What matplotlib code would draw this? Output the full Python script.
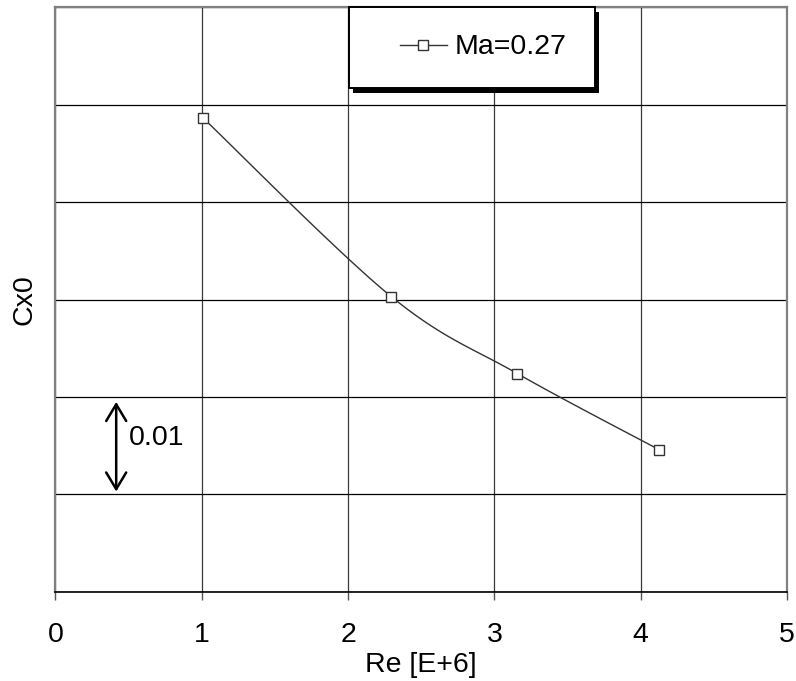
import numpy as np
import matplotlib
matplotlib.use("Agg")
import matplotlib.pyplot as plt
from matplotlib.patches import Rectangle

plt.rcParams['font.family'] = ['Liberation Sans', 'DejaVu Sans']

# Reynolds number [E+6] and zero-lift drag coefficient
re_values = [1.01, 2.295, 3.157, 4.125]
cx0_values = [0.0486, 0.0303, 0.0224, 0.0146]
series_label = "Ma=0.27"
x_ticks = [0, 1, 2, 3, 4, 5]
x_tick_labels = ["0", "1", "2", "3", "4", "5"]
scale_value = 0.01

fig = plt.figure(figsize=(7.96, 6.81), dpi=100)
ax = fig.add_axes([0.0697, 0.1307, 0.919, 0.859])
ax.set_xlim(0, 5)
ax.set_ylim(0, 0.06)


def smooth_curve(xs, ys, xr, yr, n=40):
    """Bezier smoothing through the points, computed in axes-normalised space."""
    px = np.asarray(xs) / xr
    py = np.asarray(ys) / yr
    pts = np.column_stack([px, py])
    pad = np.vstack([pts[0], pts, pts[-1]])
    out = [pts[0]]
    t = np.linspace(0, 1, n)[1:, None]
    for i in range(len(pts) - 1):
        p0, p1, p2, p3 = pad[i], pad[i + 1], pad[i + 2], pad[i + 3]
        c1 = p1 + (p2 - p0) / 6.0
        c2 = p2 - (p3 - p1) / 6.0
        seg = ((1 - t) ** 3) * p1 + 3 * ((1 - t) ** 2) * t * c1 + 3 * (1 - t) * t ** 2 * c2 + t ** 3 * p2
        out.extend(seg)
    out = np.array(out)
    return out[:, 0] * xr, out[:, 1] * yr


sx, sy = smooth_curve(re_values, cx0_values, 5.0, 0.06 * 0.8)
ax.plot(sx, sy, color='#333333', lw=1.0, zorder=3)
ax.plot(re_values, cx0_values, ls='none', marker='s', ms=7, mfc='white',
        mec='#333333', mew=1.0, zorder=4)

# grid
ax.set_yticks(np.arange(0, 0.0601, 0.01))
ax.set_xticks(x_ticks)
ax.set_xticklabels(x_tick_labels)
ax.yaxis.set_tick_params(length=0, labelleft=False)
ax.grid(True, axis='y', color='black', lw=0.9)
ax.grid(True, axis='x', color='#3a3a3a', lw=0.9)
ax.set_axisbelow(True)
ax.tick_params(axis='x', direction='out', length=6, width=1.0, color='#555555',
               labelsize=20.5, pad=15.5)

for side in ['left', 'top', 'right']:
    ax.spines[side].set_color('#808080')
    ax.spines[side].set_linewidth(1.6)
ax.spines['bottom'].set_color('black')
ax.spines['bottom'].set_linewidth(1.2)

ax.set_xlabel("Re [E+6]", fontsize=20.5, labelpad=3)
ax.set_ylabel("Cx0", fontsize=20.5, labelpad=13)

# scale indicator
ax.annotate("", xy=(0.415, 0.02 - 0.0005), xytext=(0.415, 0.01 + 0.0003),
            arrowprops=dict(arrowstyle='<->, head_length=0.4, head_width=0.24',
                            color='black', lw=1.8,
                            mutation_scale=30, shrinkA=0, shrinkB=0), zorder=5)
ax.text(0.5, 0.0158, f"{scale_value:.2f}", fontsize=20.5, ha='left', va='center', zorder=5)

# legend box with solid shadow
bx0, by0, bw, bh = 0.4012, 0.8615, 0.3363, 0.1385
ax.add_patch(Rectangle((bx0 + 0.0060, by0 - 0.0080), bw, bh, transform=ax.transAxes,
                       facecolor='black', edgecolor='none', zorder=6, clip_on=False))
ax.add_patch(Rectangle((bx0, by0), bw, bh, transform=ax.transAxes,
                       facecolor='white', edgecolor='black', lw=1.4, zorder=7, clip_on=False))

handle_line, = ax.plot([], [], color='#333333', lw=1.0, marker='s', ms=7,
                       mfc='white', mec='#333333', mew=1.0)
leg = ax.legend([handle_line], [series_label], loc='center',
                bbox_to_anchor=(0.5844, 0.9308), frameon=False, fontsize=20.5,
                handlelength=1.68, handletextpad=0.25, borderpad=0, borderaxespad=0)
leg.set_zorder(8)

fig.savefig("out.png", dpi=100, facecolor='white')
